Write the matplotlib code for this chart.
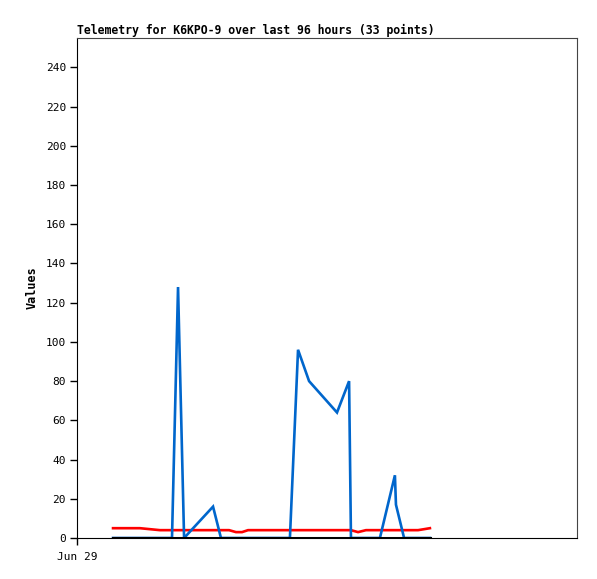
import matplotlib
matplotlib.use("Agg")
from matplotlib import pyplot as plt

# hours after midnight Jun 29, one entry per telemetry packet (33 points)
hours = [1.73, 2.40, 3.02, 3.50, 3.98, 4.56, 4.85, 5.14, 6.53, 6.91, 7.30,
         7.63, 7.92, 8.21, 8.78, 9.26, 9.74, 10.22, 10.61, 11.14, 12.48, 13.06,
         13.15, 13.49, 13.87, 14.54, 15.26, 15.31, 15.70, 15.98, 16.37, 16.66, 16.94]

ch_blue = [0, 0, 0, 0, 0, 0, 128, 0, 16, 0, 0,
           0, 0, 0, 0, 0, 0, 0, 96, 80, 64, 80,
           0, 0, 0, 0, 32, 17, 0, 0, 0, 0, 0]

ch_red = [5, 5, 5, 4.5, 4, 4, 4, 4, 4, 4, 4,
          3, 3, 4, 4, 4, 4, 4, 4, 4, 4, 4,
          4, 3, 4, 4, 4, 4, 4, 4, 4, 4.5, 5]

ch_black = [0] * 33

title = "Telemetry for K6KPO-9 over last 96 hours (33 points)"
x_label = "Jun 29"

plt.rcParams['font.family'] = ['DejaVu Sans Mono']

fig = plt.figure(figsize=(5.97, 5.79), dpi=100)
ax = fig.add_axes([77 / 597, 41 / 579, 500 / 597, 500 / 579])

ax.plot(hours, ch_red, color="#ff0000", lw=1.9, solid_joinstyle="miter")
ax.plot(hours, ch_blue, color="#0066cc", lw=1.9, solid_joinstyle="miter")
ax.plot(hours, ch_black, color="black", lw=2.2)

ax.set_xlim(0, 24)
ax.set_ylim(0, 255)
ax.set_yticks(range(0, 241, 20))
ax.set_xticks([0])
ax.set_xticklabels([x_label])
ax.tick_params(axis="both", labelsize=8, length=5, width=1, direction="out", pad=3)
ax.tick_params(axis="x", pad=5)

for side in ("top", "right"):
    ax.spines[side].set_color("#444444")
for side in ("left", "bottom"):
    ax.spines[side].set_color("black")

ax.set_ylabel("Values", fontsize=8.5, fontweight="bold", labelpad=5)
ax.set_title(title, loc="left", fontsize=8.3, fontweight="bold", pad=3)

fig.savefig("out.png", dpi=100)
